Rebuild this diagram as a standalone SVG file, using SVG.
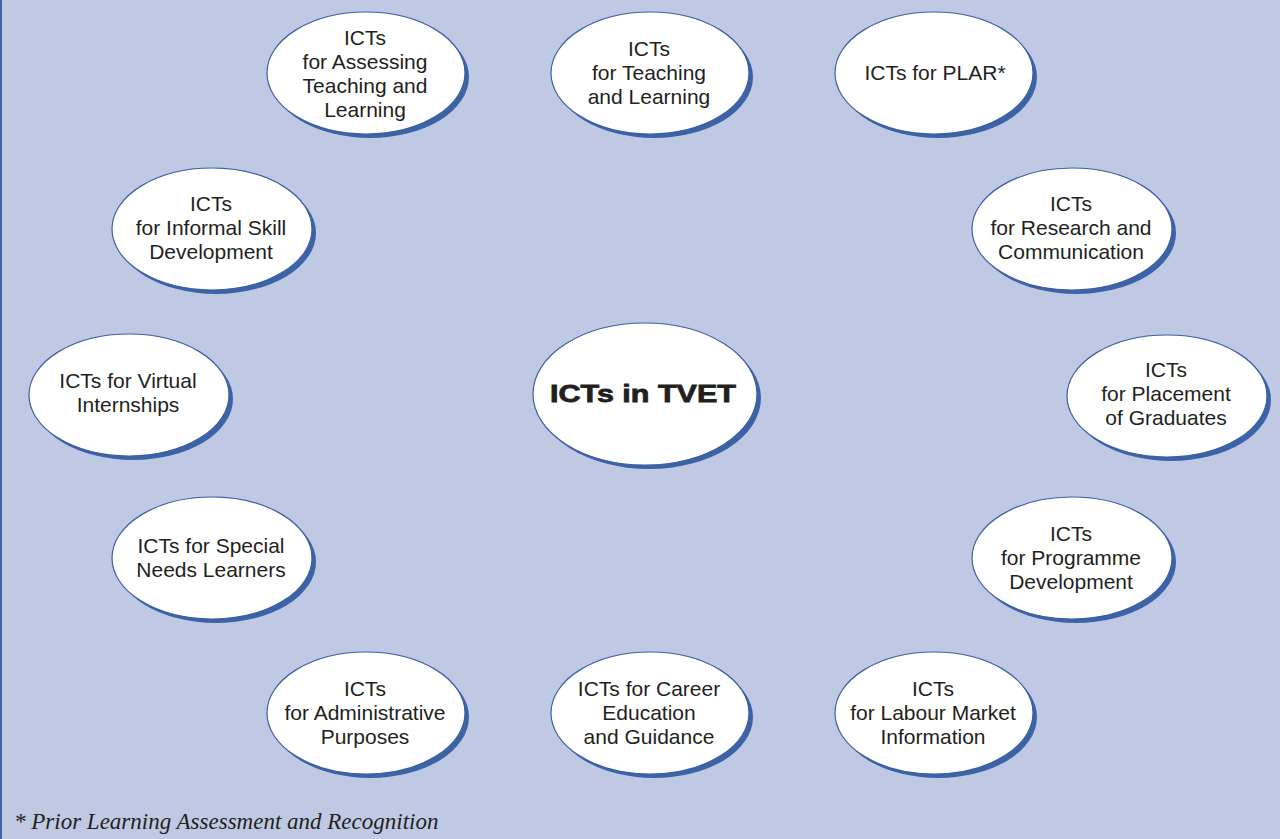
<svg xmlns="http://www.w3.org/2000/svg" width="1280" height="839" viewBox="0 0 1280 839">
  <style>
    .bg { fill: #c0c9e3; }
    .edge { fill: #3d62a6; }
    .shadow { fill: #3c63a6; }
    .node { fill: #ffffff; stroke: #3d60a4; stroke-width: 1.2; }
    .label { font-family: "Liberation Sans", Arial, sans-serif; font-size: 21px; fill: #231f20; text-anchor: middle; }
    .hub { font-family: "Liberation Sans", Arial, sans-serif; font-size: 24px; font-weight: bold; fill: #231f20; stroke: #231f20; stroke-width: 0.8; text-anchor: middle; }
    .note { font-family: "Liberation Serif", "Times New Roman", serif; font-size: 23px; font-style: italic; fill: #231f20; }
  </style>

  <rect class="bg" x="0" y="0" width="1280" height="839"/>
  <rect class="edge" x="0" y="0" width="2" height="839"/>

  <!-- no connectors between the ovals -->
  <g id="connectors"/>

  <g id="hub">
    <ellipse class="shadow" cx="649" cy="398" rx="112" ry="71"/>
    <ellipse class="node" cx="645" cy="394" rx="112" ry="71"/>
    <text class="hub" x="643" y="402" textLength="186" lengthAdjust="spacingAndGlyphs">ICTs in TVET</text>
  </g>

  <g id="assessing">
    <ellipse class="shadow" cx="370" cy="77" rx="99" ry="61"/>
    <ellipse class="node" cx="366" cy="73" rx="99" ry="61"/>
    <text class="label"><tspan x="365" y="45">ICTs</tspan><tspan x="365" y="69">for Assessing</tspan><tspan x="365" y="93">Teaching and</tspan><tspan x="365" y="117">Learning</tspan></text>
  </g>

  <g id="teaching">
    <ellipse class="shadow" cx="654" cy="77" rx="99" ry="61"/>
    <ellipse class="node" cx="650" cy="73" rx="99" ry="61"/>
    <text class="label"><tspan x="649" y="56">ICTs</tspan><tspan x="649" y="80">for Teaching</tspan><tspan x="649" y="104">and Learning</tspan></text>
  </g>

  <g id="plar">
    <ellipse class="shadow" cx="938" cy="77" rx="99" ry="61"/>
    <ellipse class="node" cx="934" cy="73" rx="99" ry="61"/>
    <text class="label" x="935" y="80">ICTs for PLAR*</text>
  </g>

  <g id="informal">
    <ellipse class="shadow" cx="216" cy="233" rx="100" ry="61"/>
    <ellipse class="node" cx="212" cy="229" rx="100" ry="61"/>
    <text class="label"><tspan x="211" y="211">ICTs</tspan><tspan x="211" y="235">for Informal Skill</tspan><tspan x="211" y="259">Development</tspan></text>
  </g>

  <g id="research">
    <ellipse class="shadow" cx="1076" cy="233" rx="100" ry="61"/>
    <ellipse class="node" cx="1072" cy="229" rx="100" ry="61"/>
    <text class="label"><tspan x="1071" y="211">ICTs</tspan><tspan x="1071" y="235">for Research and</tspan><tspan x="1071" y="259">Communication</tspan></text>
  </g>

  <g id="virtual">
    <ellipse class="shadow" cx="133" cy="399" rx="100" ry="61"/>
    <ellipse class="node" cx="129" cy="395" rx="100" ry="61"/>
    <text class="label"><tspan x="128" y="388">ICTs for Virtual</tspan><tspan x="128" y="412">Internships</tspan></text>
  </g>

  <g id="placement">
    <ellipse class="shadow" cx="1171" cy="400" rx="100" ry="61"/>
    <ellipse class="node" cx="1167" cy="396" rx="100" ry="61"/>
    <text class="label"><tspan x="1166" y="377">ICTs</tspan><tspan x="1166" y="401">for Placement</tspan><tspan x="1166" y="425">of Graduates</tspan></text>
  </g>

  <g id="special">
    <ellipse class="shadow" cx="216" cy="562" rx="100" ry="61"/>
    <ellipse class="node" cx="212" cy="558" rx="100" ry="61"/>
    <text class="label"><tspan x="211" y="553">ICTs for Special</tspan><tspan x="211" y="577">Needs Learners</tspan></text>
  </g>

  <g id="programme">
    <ellipse class="shadow" cx="1076" cy="562" rx="100" ry="61"/>
    <ellipse class="node" cx="1072" cy="558" rx="100" ry="61"/>
    <text class="label"><tspan x="1071" y="541">ICTs</tspan><tspan x="1071" y="565">for Programme</tspan><tspan x="1071" y="589">Development</tspan></text>
  </g>

  <g id="administrative">
    <ellipse class="shadow" cx="370" cy="717" rx="99" ry="61"/>
    <ellipse class="node" cx="366" cy="713" rx="99" ry="61"/>
    <text class="label"><tspan x="365" y="696">ICTs</tspan><tspan x="365" y="720">for Administrative</tspan><tspan x="365" y="744">Purposes</tspan></text>
  </g>

  <g id="career">
    <ellipse class="shadow" cx="654" cy="717" rx="99" ry="61"/>
    <ellipse class="node" cx="650" cy="713" rx="99" ry="61"/>
    <text class="label"><tspan x="649" y="696">ICTs for Career</tspan><tspan x="649" y="720">Education</tspan><tspan x="649" y="744">and Guidance</tspan></text>
  </g>

  <g id="labour">
    <ellipse class="shadow" cx="938" cy="717" rx="99" ry="61"/>
    <ellipse class="node" cx="934" cy="713" rx="99" ry="61"/>
    <text class="label"><tspan x="933" y="696">ICTs</tspan><tspan x="933" y="720">for Labour Market</tspan><tspan x="933" y="744">Information</tspan></text>
  </g>

  <text class="note" x="14" y="829">* Prior Learning Assessment and Recognition</text>
</svg>
